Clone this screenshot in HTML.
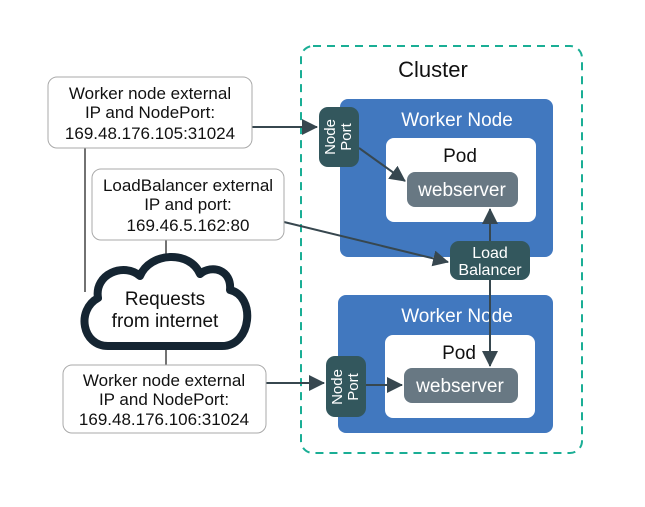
<!DOCTYPE html>
<html><head><style>
body{margin:0;background:#fff;}
svg text{font-family:"Liberation Sans",sans-serif;}
</style></head><body>
<svg width="645" height="502" viewBox="0 0 645 502" xmlns="http://www.w3.org/2000/svg">
<defs>
<marker id="b" markerWidth="16" markerHeight="16" refX="15" refY="8" orient="auto" markerUnits="userSpaceOnUse" viewBox="0 0 16 16">
<path d="M0,0 L16,8 L0,16 z" fill="#37474f"/></marker>
</defs>
<rect x="301" y="46" width="281" height="407" rx="12" fill="none" stroke="#1aae95" stroke-width="2" stroke-dasharray="8,6"/>
<text x="433" y="77" font-size="22" text-anchor="middle" fill="#111">Cluster</text>

<rect x="340" y="99" width="213" height="158" rx="8" fill="#4178bf"/>
<text x="457" y="126" font-size="19" fill="#fff" text-anchor="middle">Worker Node</text>
<rect x="386" y="138" width="150" height="84" rx="8" fill="#fff"/>
<text x="460" y="162" font-size="19" text-anchor="middle" fill="#111">Pod</text>
<rect x="407" y="172" width="111" height="35" rx="8" fill="#687883"/>
<text x="462" y="196" font-size="19" fill="#fff" text-anchor="middle">webserver</text>

<rect x="338" y="295" width="215" height="138" rx="8" fill="#4178bf"/>
<text x="457" y="322" font-size="19" fill="#fff" text-anchor="middle">Worker Node</text>
<rect x="385" y="335" width="150" height="83" rx="8" fill="#fff"/>
<text x="459" y="359" font-size="19" text-anchor="middle" fill="#111">Pod</text>
<rect x="404" y="368" width="114" height="35" rx="8" fill="#687883"/>
<text x="460" y="392" font-size="19" fill="#fff" text-anchor="middle">webserver</text>

<line x1="359" y1="148" x2="405" y2="181" stroke="#37474f" stroke-width="2" marker-end="url(#b)"/>
<line x1="490" y1="241" x2="490" y2="209" stroke="#37474f" stroke-width="2" marker-end="url(#b)"/>
<line x1="490" y1="280" x2="490" y2="366" stroke="#37474f" stroke-width="2" marker-end="url(#b)"/>
<line x1="366" y1="385" x2="402" y2="385" stroke="#37474f" stroke-width="2" marker-end="url(#b)"/>

<rect x="319" y="107" width="40" height="60" rx="9" fill="#33575d"/>
<text transform="translate(335,137) rotate(-90)" font-size="15" fill="#fff" text-anchor="middle">Node</text>
<text transform="translate(351,137) rotate(-90)" font-size="15" fill="#fff" text-anchor="middle">Port</text>
<rect x="326" y="356" width="40" height="61" rx="9" fill="#33575d"/>
<text transform="translate(342,387) rotate(-90)" font-size="15" fill="#fff" text-anchor="middle">Node</text>
<text transform="translate(358,387) rotate(-90)" font-size="15" fill="#fff" text-anchor="middle">Port</text>
<rect x="450" y="241" width="80" height="39" rx="9" fill="#33575d"/>
<text x="490" y="258" font-size="16" fill="#fff" text-anchor="middle">Load</text>
<text x="490" y="275" font-size="16" fill="#fff" text-anchor="middle">Balancer</text>

<line x1="85" y1="148" x2="85" y2="292" stroke="#444" stroke-width="1.5"/>
<line x1="166" y1="240" x2="166" y2="262" stroke="#444" stroke-width="1.5"/>
<line x1="166" y1="345" x2="166" y2="365" stroke="#444" stroke-width="1.5"/>
<line x1="252" y1="127" x2="317" y2="127" stroke="#37474f" stroke-width="2" marker-end="url(#b)"/>
<line x1="284" y1="222" x2="448" y2="262" stroke="#37474f" stroke-width="2" marker-end="url(#b)"/>
<line x1="266" y1="383" x2="324" y2="383" stroke="#37474f" stroke-width="2" marker-end="url(#b)"/>

<rect x="48" y="77" width="204" height="71" rx="9" fill="#fff" stroke="#aaa"/>
<text x="150" y="99" font-size="17" text-anchor="middle" fill="#111">Worker node external</text>
<text x="150" y="118" font-size="17" text-anchor="middle" fill="#111">IP and NodePort:</text>
<text x="150" y="139" font-size="17" text-anchor="middle" fill="#111">169.48.176.105:31024</text>

<rect x="92" y="169" width="192" height="71" rx="9" fill="#fff" stroke="#aaa"/>
<text x="188" y="191" font-size="17" text-anchor="middle" fill="#111">LoadBalancer external</text>
<text x="188" y="210" font-size="17" text-anchor="middle" fill="#111">IP and port:</text>
<text x="188" y="231" font-size="17" text-anchor="middle" fill="#111">169.46.5.162:80</text>

<rect x="63" y="365" width="203" height="68" rx="9" fill="#fff" stroke="#aaa"/>
<text x="164" y="386" font-size="17" text-anchor="middle" fill="#111">Worker node external</text>
<text x="164" y="405" font-size="17" text-anchor="middle" fill="#111">IP and NodePort:</text>
<text x="164" y="425" font-size="17" text-anchor="middle" fill="#111">169.48.176.106:31024</text>

<path d="M108,346 C82,346 76,310 98,298 C94,274 124,262 140,276 C150,252 190,250 200,274 C212,264 232,270 230,290 C256,296 252,346 222,346 Z" fill="#fff" stroke="#152532" stroke-width="8" stroke-linejoin="round"/>
<text x="165" y="305" font-size="19" text-anchor="middle" fill="#111">Requests</text>
<text x="165" y="327" font-size="19" text-anchor="middle" fill="#111">from internet</text>
</svg>
</body></html>
